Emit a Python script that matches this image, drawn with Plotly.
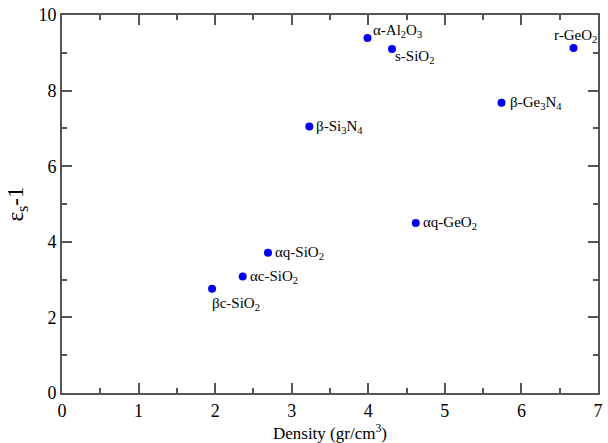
import plotly.graph_objects as go

materials = ["βc-SiO<sub>2</sub>", "αc-SiO<sub>2</sub>", "αq-SiO<sub>2</sub>", "β-Si<sub>3</sub>N<sub>4</sub>",
             "α-Al<sub>2</sub>O<sub>3</sub>", "s-SiO<sub>2</sub>", "αq-GeO<sub>2</sub>",
             "β-Ge<sub>3</sub>N<sub>4</sub>", "r-GeO<sub>2</sub>"]
density = [1.96, 2.36, 2.69, 3.23, 3.99, 4.31, 4.62, 5.74, 6.68]
eps_minus_1 = [2.76, 3.08, 3.71, 7.05, 9.39, 9.10, 4.50, 7.68, 9.13]

# label placement (xanchor, xshift px, yshift px)
placement = [("left", -2, -15), ("left", 5, 0), ("left", 5, 0), ("left", 5, 0),
             ("left", 3, 7), ("left", 1, -8), ("left", 5, 0), ("left", 6, 0), ("center", 2, 12)]

serif = "Liberation Serif, Times New Roman, Times, serif"
axis_color = "#555555"

fig = go.Figure()
fig.add_trace(go.Scatter(x=density, y=eps_minus_1, mode="markers",
                         marker=dict(color="#0000ee", size=8), showlegend=False,
                         hoverinfo="skip"))

for name, xv, yv, (xa, xs, ys) in zip(materials, density, eps_minus_1, placement):
    fig.add_annotation(x=xv, y=yv, text=name, showarrow=False, xanchor=xa, yanchor="middle",
                       xshift=xs, yshift=ys, font=dict(family=serif, size=15, color="black"))

common = dict(showline=True, linecolor=axis_color, linewidth=2, mirror="allticks",
              ticks="inside", ticklen=10, tickwidth=1.5, tickcolor=axis_color,
              showgrid=False, zeroline=False,
              tickfont=dict(family=serif, size=18, color="black"))

fig.update_xaxes(range=[0, 7], dtick=1, tick0=0,
                 minor=dict(ticks="inside", ticklen=5, dtick=0.5, tickcolor=axis_color, tickwidth=1.5),
                 title=dict(text="Density (gr/cm<sup>3</sup>)", font=dict(family=serif, size=17, color="black"),
                            standoff=2),
                 **common)
fig.update_yaxes(range=[0, 10], dtick=2, tick0=0,
                 minor=dict(ticks="inside", ticklen=5, dtick=1, tickcolor=axis_color, tickwidth=1.5),
                 title=dict(text="ε<sub>s</sub>-1", font=dict(family=serif, size=23, color="black"),
                            standoff=8),
                 **common)

fig.update_layout(width=608, height=443, margin=dict(l=62, r=5, t=13, b=50),
                  plot_bgcolor="white", paper_bgcolor="white")

fig.write_html("out.html", config={"displayModeBar": False},
               post_script="document.body.style.margin='0';document.body.style.overflow='hidden';")
